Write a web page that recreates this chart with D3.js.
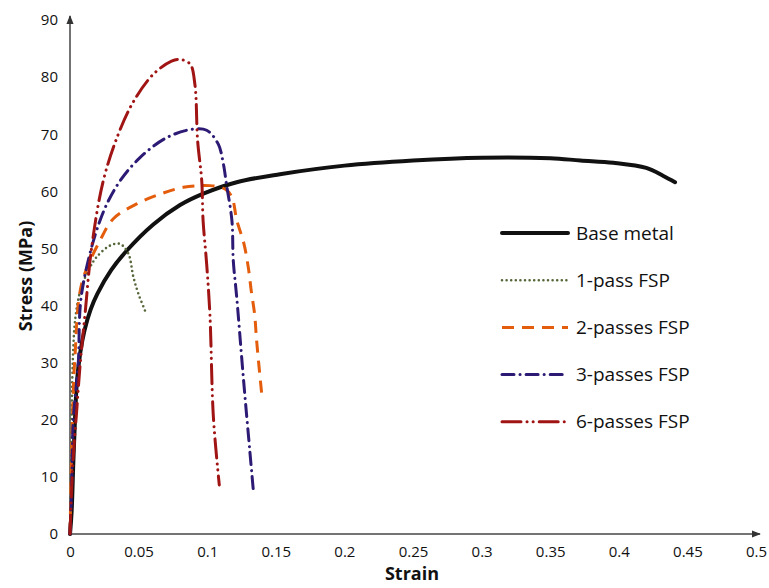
<!DOCTYPE html>
<html>
<head>
<meta charset="utf-8">
<script src="https://cdn.jsdelivr.net/npm/d3@7"></script>
<style>
  body { margin: 0; background: #fff; }
  svg { display: block; font-family: "Open Sans", sans-serif; }
</style>
</head>
<body>
<div id="chart"></div>
<script>
// tick labels
const xTicks = [0, 0.05, 0.1, 0.15, 0.2, 0.25, 0.3, 0.35, 0.4, 0.45, 0.5];
const yTicks = [0, 10, 20, 30, 40, 50, 60, 70, 80, 90];

// series names
const seriesNames = ["Base metal", "1-pass FSP", "2-passes FSP", "3-passes FSP", "6-passes FSP"];

// [strain, stress MPa]
const baseMetal = [[0,0],[0.0012,4],[0.0024,12.4],[0.0036,19.9],[0.005,26.5],[0.0075,31.8],[0.0105,35.6],
  [0.015,39.3],[0.02,42.1],[0.03,46.2],[0.0413,49.6],[0.0607,54.2],[0.0802,57.6],[0.0972,59.6],
  [0.1215,61.6],[0.153,63.0],[0.2,64.5],[0.25,65.4],[0.3,65.9],[0.35,65.8],[0.372,65.4],[0.396,65.0],
  [0.42,64.1],[0.4325,62.7],[0.441,61.6]];
const pass1 = [[0,0],[0.001,15],[0.002,30],[0.004,38],[0.008,43],[0.0146,46.7],[0.0194,48.5],[0.0292,50.5],
  [0.0364,50.8],[0.0425,49.1],[0.0462,45.0],[0.0498,42.1],[0.0547,39.1]];
const pass2 = [[0,0],[0.001,12],[0.002,22],[0.0036,31],[0.0085,43.8],[0.0219,51.4],[0.0316,55.2],[0.0486,57.8],
  [0.0656,59.5],[0.0826,60.7],[0.102,61.0],[0.113,60.4],[0.118,59.0],[0.1215,55.0],[0.1268,50.8],
  [0.13,46.6],[0.1322,42.4],[0.1346,38.4],[0.136,33.9],[0.1397,24.6]];
const pass3 = [[0,0],[0.0012,8.3],[0.0024,19.9],[0.006,29.8],[0.0085,42.1],[0.0219,54.9],[0.035,61.3],
  [0.051,65.9],[0.0705,69.4],[0.0899,70.9],[0.0996,70.7],[0.108,68.3],[0.1118,64.8],[0.114,61.3],
  [0.118,54.9],[0.119,47.9],[0.1215,41.5],[0.1263,27.5],[0.131,14.7],[0.1336,7.7]];
const pass6 = [[0,0],[0.002,12],[0.005,22],[0.0075,30],[0.011,38.6],[0.0158,50.2],[0.0243,61.9],[0.0352,70.0],
  [0.046,75.6],[0.0607,80.5],[0.074,82.8],[0.080,83.1],[0.0875,82.3],[0.091,78.8],[0.093,68.9],[0.096,61.9],
  [0.097,54.9],[0.0996,47.3],[0.102,38.3],[0.1045,20.5],[0.1088,8.6]];

const width = 769, height = 588;

const styles = [
  { color: "#111", w: 4, dash: null, cap: "round" },
  { color: "#55663a", w: 2.6, dash: "0,4.6", cap: "round" },
  { color: "#e35d0c", w: 3, dash: "12,8", cap: "butt" },
  { color: "#2c1a75", w: 3, dash: "12,6,0.1,6", cap: "round" },
  { color: "#a01414", w: 3, dash: "19,6,0.1,6,0.1,6", cap: "round" }
];
const allSeries = [baseMetal, pass1, pass2, pass3, pass6];

const svg = d3.select("#chart").append("svg")
  .attr("width", width)
  .attr("height", height);

const x = d3.scaleLinear().domain([0, 0.5]).range([70, 756]);
const y = d3.scaleLinear().domain([0, 90]).range([534, 20]);

// arrow heads
svg.append("defs").append("marker")
  .attr("id", "arrow")
  .attr("viewBox", "0 0 10 10")
  .attr("refX", 9).attr("refY", 5)
  .attr("markerWidth", 6).attr("markerHeight", 6)
  .attr("orient", "auto")
  .append("path")
  .attr("d", "M0,1L10,5L0,9z")
  .attr("fill", "#333");

// axis lines
svg.append("line")
  .attr("x1", x(0)).attr("y1", y(0)).attr("x2", 760).attr("y2", y(0))
  .attr("stroke", "#444").attr("stroke-width", 1.5)
  .attr("marker-end", "url(#arrow)");
svg.append("line")
  .attr("x1", x(0)).attr("y1", y(0)).attr("x2", x(0)).attr("y2", 16)
  .attr("stroke", "#444").attr("stroke-width", 1.5)
  .attr("marker-end", "url(#arrow)");

// tick labels via axes
const xAxis = svg.append("g")
  .attr("transform", `translate(0,${y(0)})`)
  .call(d3.axisBottom(x).tickValues(xTicks).tickSize(0).tickPadding(12).tickFormat(d => d3.format("")(d)));
const yAxis = svg.append("g")
  .attr("transform", `translate(${x(0) - 10},0)`)
  .call(d3.axisLeft(y).tickValues(yTicks).tickSize(0).tickPadding(2));
[xAxis, yAxis].forEach(g => {
  g.select(".domain").remove();
  g.selectAll("text")
    .attr("font-family", "'Open Sans', sans-serif")
    .attr("font-size", 15)
    .attr("fill", "#111");
});

// axis titles
svg.append("text")
  .attr("x", 412).attr("y", 580)
  .attr("text-anchor", "middle")
  .attr("font-size", 18).attr("font-weight", "bold")
  .attr("fill", "#111")
  .text("Strain");
svg.append("text")
  .attr("transform", "translate(32,276) rotate(-90)")
  .attr("text-anchor", "middle")
  .attr("font-size", 18).attr("font-weight", "bold")
  .attr("fill", "#111")
  .text("Stress (MPa)");

// curves
const line = d3.line()
  .x(d => x(d[0]))
  .y(d => y(d[1]))
  .curve(d3.curveCatmullRom.alpha(0.5));

allSeries.forEach((s, i) => {
  const st = styles[i];
  svg.append("path")
    .datum(s)
    .attr("d", line)
    .attr("fill", "none")
    .attr("stroke", st.color)
    .attr("stroke-width", st.w)
    .attr("stroke-dasharray", st.dash)
    .attr("stroke-linecap", st.cap)
    .attr("stroke-linejoin", "round");
});

// legend
const legend = svg.append("g").attr("transform", "translate(502,233)");
seriesNames.forEach((name, i) => {
  const st = styles[i];
  const row = legend.append("g").attr("transform", `translate(0,${i * 47.2})`);
  row.append("line")
    .attr("x1", 0).attr("x2", 66)
    .attr("stroke", st.color)
    .attr("stroke-width", st.w)
    .attr("stroke-dasharray", st.dash)
    .attr("stroke-linecap", st.cap);
  row.append("text")
    .attr("x", 74).attr("y", 0)
    .attr("dy", "0.35em")
    .attr("font-size", 19)
    .attr("fill", "#111")
    .text(name);
});
</script>
</body>
</html>
